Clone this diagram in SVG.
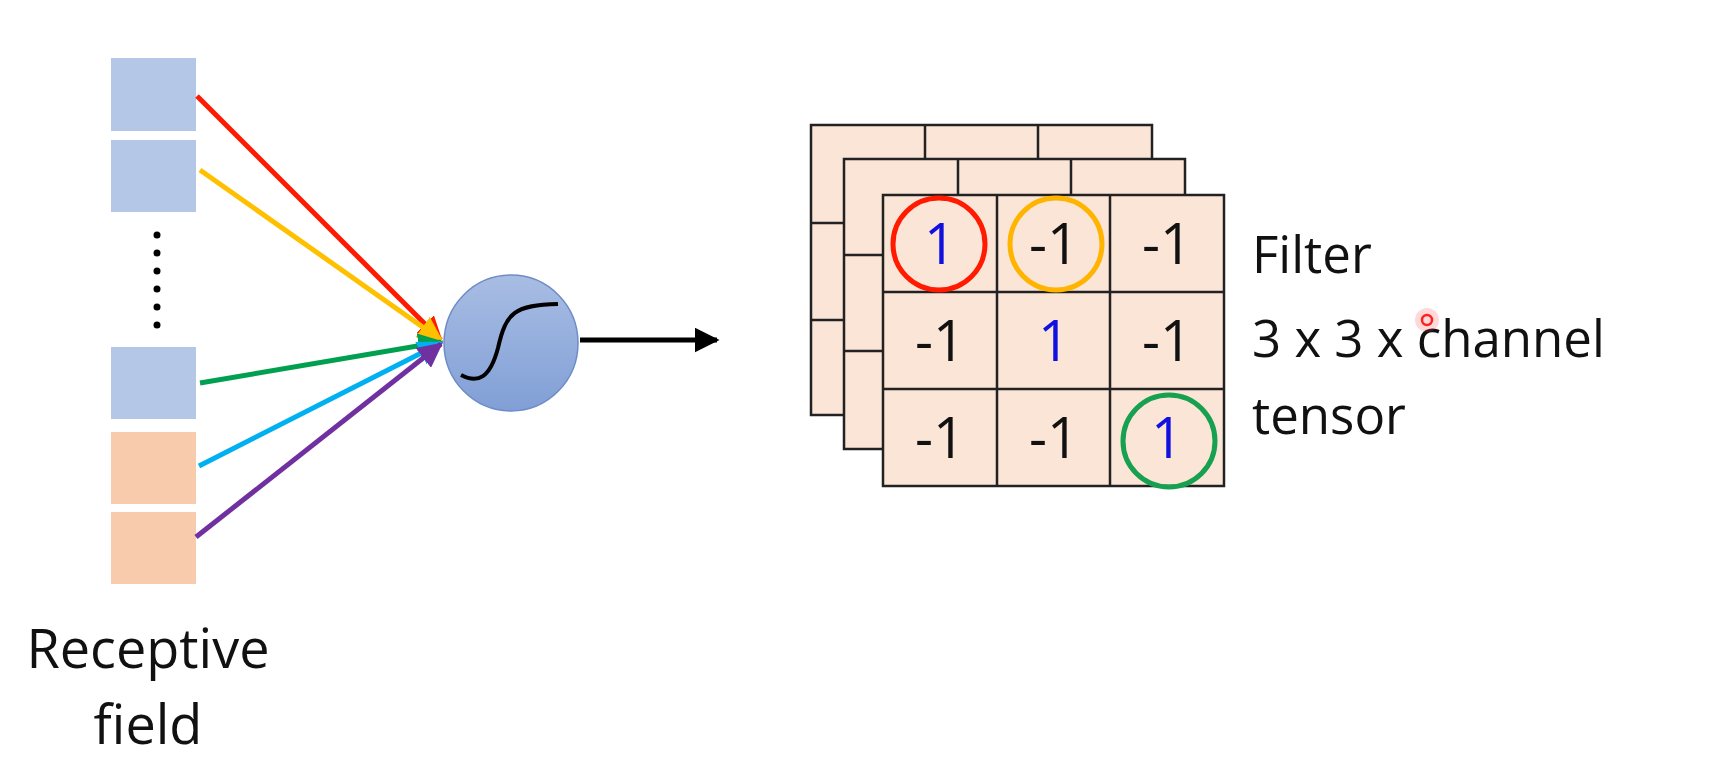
<svg xmlns="http://www.w3.org/2000/svg" width="1721" height="778" viewBox="0 0 1721 778">
<style>
.b{fill:#b4c7e7}.o{fill:#f8cbad}
.g{fill:#fbe5d6;stroke:#222;stroke-width:2.5}
.gl{stroke:#222;stroke-width:2.5;fill:none}
.t{font-family:"Open Sans",sans-serif;font-size:51px;fill:#111}
.t2{font-family:"Open Sans",sans-serif;font-size:54px;fill:#111;text-anchor:middle}
.n{font-family:"Open Sans",sans-serif;font-size:56px;text-anchor:middle;fill:#111}
.nb{fill:#1010e0}
.c{fill:none;stroke-width:5}
</style>
<defs>
<linearGradient id="sg" x1="0" y1="0" x2="0" y2="1"><stop offset="0" stop-color="#a8bde3"/><stop offset="1" stop-color="#819fd6"/></linearGradient>
<marker id="ar" markerWidth="5" markerHeight="5" refX="4.5" refY="2.5" orient="auto" markerUnits="strokeWidth"><path d="M0,0L5,2.5L0,5z" fill="context-stroke"/></marker>
<marker id="ak" markerWidth="5" markerHeight="5" refX="4.5" refY="2.5" orient="auto" markerUnits="strokeWidth"><path d="M0,0L5,2.5L0,5z" fill="#000"/></marker>
</defs>
<rect width="1721" height="778" fill="#fff"/>
<g id="receptive">
<rect class="b" x="111" y="58" width="85" height="73"/>
<rect class="b" x="111" y="140" width="85" height="72"/>
<rect class="b" x="111" y="347" width="85" height="72"/>
<rect class="o" x="111" y="432" width="85" height="72"/>
<rect class="o" x="111" y="512" width="85" height="72"/>
<g fill="#000"><circle cx="157" cy="235" r="3.5"/><circle cx="157" cy="253" r="3.5"/><circle cx="157" cy="271" r="3.5"/><circle cx="157" cy="289" r="3.5"/><circle cx="157" cy="307" r="3.5"/><circle cx="157" cy="325" r="3.5"/></g>
<text class="t2" x="148" y="668">Receptive</text>
<text class="t2" x="148" y="744">field</text>
</g>
<g id="connectors" stroke-width="5" fill="none">
<line x1="197" y1="96" x2="441" y2="340" stroke="#ff1a00" marker-end="url(#ar)"/>
<line x1="200" y1="170" x2="441" y2="340" stroke="#ffc000" marker-end="url(#ar)"/>
<line x1="200" y1="383" x2="441" y2="342" stroke="#00a050" marker-end="url(#ar)"/>
<line x1="199" y1="466" x2="441" y2="343" stroke="#00b0f0" marker-end="url(#ar)"/>
<line x1="196" y1="537" x2="441" y2="344" stroke="#7030a0" marker-end="url(#ar)"/>
<line x1="580" y1="340" x2="717" y2="340" stroke="#000" marker-end="url(#ak)"/>
</g>
<g id="neuron">
<ellipse cx="511" cy="343" rx="67" ry="68" fill="url(#sg)" stroke="#6d8cc8" stroke-width="1.5"/>
<path d="M461,375 C478,384 490,378 498,348 C506,312 515,305 558,304" fill="none" stroke="#000" stroke-width="4"/>
</g>
<g id="filter">
<rect class="g" x="811" y="125" width="341" height="290"/>
<path class="gl" d="M925,125V159M1038,125V159M811,223H844M811,320H844"/>
<rect class="g" x="844" y="159" width="341" height="290"/>
<path class="gl" d="M958,159V195M1071,159V195M844,255H883M844,351H883"/>
<rect class="g" x="883" y="195" width="341" height="291"/>
<path class="gl" d="M997,195V486M1110,195V486M883,292H1224M883,389H1224"/>
<text class="n nb" x="940" y="264">1</text>
<text class="n" x="1054" y="264">-1</text>
<text class="n" x="1167" y="264">-1</text>
<text class="n" x="940" y="361">-1</text>
<text class="n nb" x="1054" y="361">1</text>
<text class="n" x="1167" y="361">-1</text>
<text class="n" x="940" y="458">-1</text>
<text class="n" x="1054" y="458">-1</text>
<text class="n nb" x="1167" y="458">1</text>
<circle class="c" cx="939" cy="244" r="46" stroke="#ff1a00"/>
<circle class="c" cx="1056" cy="244" r="46" stroke="#ffb400"/>
<circle class="c" cx="1169" cy="441" r="46" stroke="#16a050"/>
</g>
<g id="label">
<text class="t" x="1252" y="273">Filter</text>
<text class="t" x="1252" y="357">3 x 3 x channel</text>
<text class="t" x="1252" y="434">tensor</text>
<circle cx="1427" cy="320" r="12" fill="#ff4040" opacity="0.2"/>
<circle cx="1427" cy="320" r="5" fill="none" stroke="#ff2020" stroke-width="2.5"/>
</g>
</svg>
